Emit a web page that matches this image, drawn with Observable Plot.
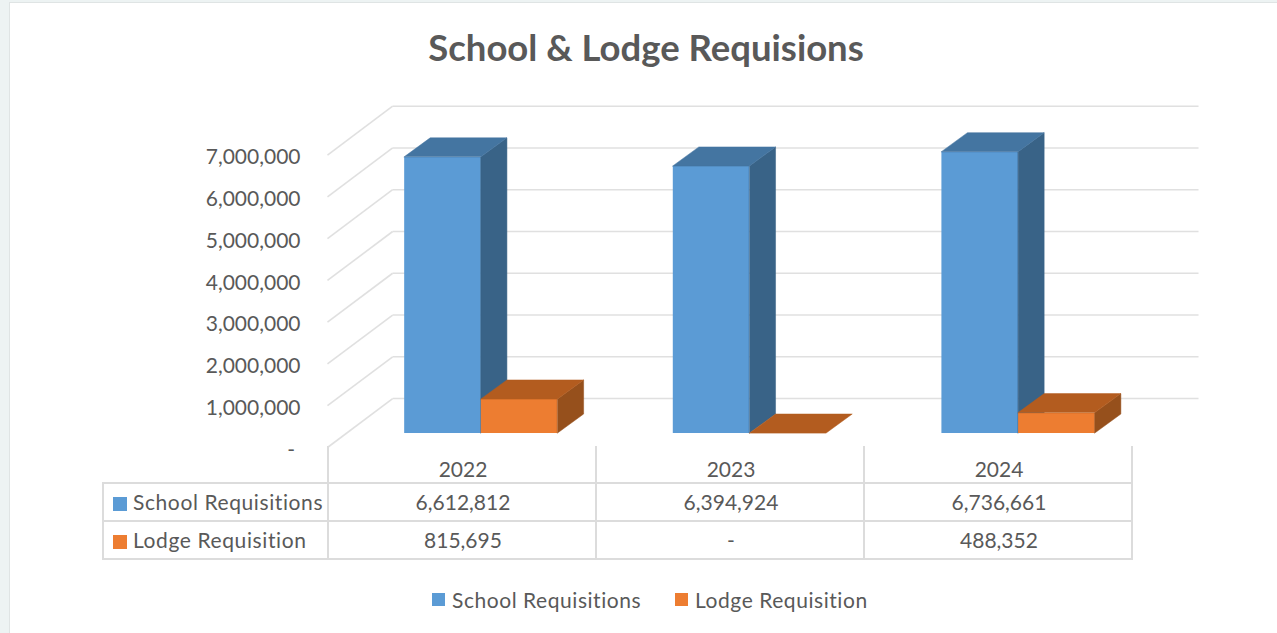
<!DOCTYPE html>
<html>
<head>
<meta charset="utf-8">
<script src="https://cdn.jsdelivr.net/npm/d3@7"></script>
<script src="https://cdn.jsdelivr.net/npm/@observablehq/plot@0.6"></script>
<style>
  html, body { margin: 0; padding: 0; background: #edf3f3; width: 1277px; height: 633px; overflow: hidden; }
  body { font-family: Lato, "Open Sans", sans-serif; color: #595959; position: relative; }
  #card { position: absolute; left: 9px; top: 2px; width: 1290px; height: 660px; background: #fff; border: 1.5px solid #dfe4e4; box-sizing: border-box; }
  #title { position: absolute; left: 0; width: 1292px; top: 24px; text-align: center; font-size: 36.5px; font-weight: 700; line-height: 46px; color: #595959; }
  #chart { position: absolute; left: 0; top: 90px; }
  #chart svg { display: block; background: transparent; }
  #table { position: absolute; left: 102px; top: 446px; border-collapse: collapse; table-layout: fixed; width: 1031px; font-size: 21px; }
  #table td { border: 2px solid #dcdcdc; padding: 0 0 0 2px; text-align: center; height: 36px; line-height: 24px; white-space: nowrap; overflow: visible; }
  #table tr.head td { border-top: 0; vertical-align: bottom; padding-bottom: 0; line-height: 26px; height: 36px; }
  #table tr.head td.blank { border: 0; border-bottom: 2px solid #dcdcdc; border-right: 2px solid #dcdcdc; }
  #table td.name { text-align: left; padding-left: 9px; letter-spacing: 0.6px; }
  .sw { display: inline-block; width: 14px; height: 14px; margin-right: 6px; vertical-align: -1px; }
  #legend { position: absolute; top: 587px; left: 432px; font-size: 21px; letter-spacing: 0.55px; white-space: nowrap; line-height: 26px; }
  #legend span.item { position: absolute; top: 0; }
  #legend .sw { width: 13px; height: 13px; margin-right: 7px; vertical-align: 2px; }
</style>
</head>
<body>
<div id="card"></div>
<div id="title"></div>
<div id="chart"></div>
<table id="table"></table>
<div id="legend"></div>
<script>
const titleText = "School & Lodge Requisions";
const years = ["2022", "2023", "2024"];
const schoolRequisitions = [6612812, 6394924, 6736661];
const lodgeRequisition = [815695, 0, 488352];
const seriesNames = ["School Requisitions", "Lodge Requisition"];
const yTicks = [0, 1000000, 2000000, 3000000, 4000000, 5000000, 6000000, 7000000];

const frontColors = ["#5b9bd5", "#ed7d31"];
const topColors = ["#4475a1", "#b35c1f"];
const sideColors = ["#396387", "#96501c"];
const gridColor = "#e0e0e0";

// Oblique projection: moving back through the chart box shifts a point right and up,
// expressed in the units of the x (category) and y (value) scales.
const wallDX = 0.2425, wallDY = 1172000;
const barStart = 0.2873, barWidth = 0.2855;
const barFrontDY = 335000, barDX = 0.097, barDY = 455000;

const fmt = d3.format(",");
const fmtCell = v => v === 0 ? "-" : fmt(v);

const allSeries = [schoolRequisitions, lodgeRequisition];

const barMarks = allSeries.flatMap((values, s) => {
  const bars = values.map((v, i) => {
    const x1 = i + barStart + s * barWidth;
    return { id: i, value: v, x1, x2: x1 + barWidth, base: barFrontDY, top: v + barFrontDY };
  });
  const side = bars.filter(b => b.value > 0).flatMap(b => [
    { id: b.id, x: b.x2, y1: b.base, y2: b.top },
    { id: b.id, x: b.x2 + barDX, y1: b.base + barDY, y2: b.top + barDY }
  ]);
  const lid = bars.flatMap(b => [
    { id: b.id, y: b.top, x1: b.x1, x2: b.x2 },
    { id: b.id, y: b.top + barDY, x1: b.x1 + barDX, x2: b.x2 + barDX }
  ]);
  return [
    Plot.rectY(bars.filter(b => b.value > 0), { x1: "x1", x2: "x2", y1: "base", y2: "top", fill: frontColors[s] }),
    Plot.areaY(side, { x: "x", y1: "y1", y2: "y2", z: "id", fill: sideColors[s], stroke: sideColors[s], strokeWidth: 0.5, curve: "linear" }),
    Plot.areaX(lid, { y: "y", x1: "x1", x2: "x2", z: "id", fill: topColors[s], stroke: topColors[s], strokeWidth: 0.5, curve: "linear" })
  ];
});

const chart = Plot.plot({
  width: 1277,
  height: 360,
  marginLeft: 327,
  marginRight: 79,
  marginTop: 15.7,
  marginBottom: 3,
  style: { fontFamily: "Lato, 'Open Sans', sans-serif", background: "transparent", overflow: "visible" },
  x: { type: "linear", domain: [0, 3 + wallDX], axis: null },
  y: { type: "linear", domain: [0, 7000000 + wallDY], axis: null },
  marks: [
    Plot.link(yTicks, { x1: 0, x2: wallDX, y1: d => d, y2: d => d + wallDY, stroke: gridColor, strokeWidth: 1.6 }),
    Plot.link(yTicks, { x1: wallDX, x2: 3 + wallDX, y1: d => d + wallDY, y2: d => d + wallDY, stroke: gridColor, strokeWidth: 1.6 }),
    Plot.axisY(yTicks, {
      anchor: "left",
      tickSize: 0,
      tickPadding: 27,
      dy: 2.5,
      fontSize: 21,
      fill: "#595959",
      label: null,
      tickFormat: d => d === 0 ? "-\u00a0" : fmt(d)
    }),
    ...barMarks
  ]
});
document.getElementById("chart").appendChild(chart);

document.getElementById("title").textContent = titleText;

const table = document.getElementById("table");
const cols = `<colgroup><col style="width:225px">${years.map(() => '<col style="width:268px">').join("")}</colgroup>`;
const head = `<tr class="head"><td class="blank"></td>${years.map(y => `<td>${y}</td>`).join("")}</tr>`;
const rows = seriesNames.map((n, s) =>
  `<tr><td class="name"><span class="sw" style="background:${frontColors[s]}"></span>${n}</td>${allSeries[s].map(v => `<td>${fmtCell(v)}</td>`).join("")}</tr>`
).join("");
table.innerHTML = cols + head + rows;

const legend = document.getElementById("legend");
const legendOffsets = [0, 243];
legend.innerHTML = seriesNames.map((n, s) =>
  `<span class="item" style="left:${legendOffsets[s]}px"><span class="sw" style="background:${frontColors[s]}"></span>${n}</span>`
).join("");
</script>
</body>
</html>
